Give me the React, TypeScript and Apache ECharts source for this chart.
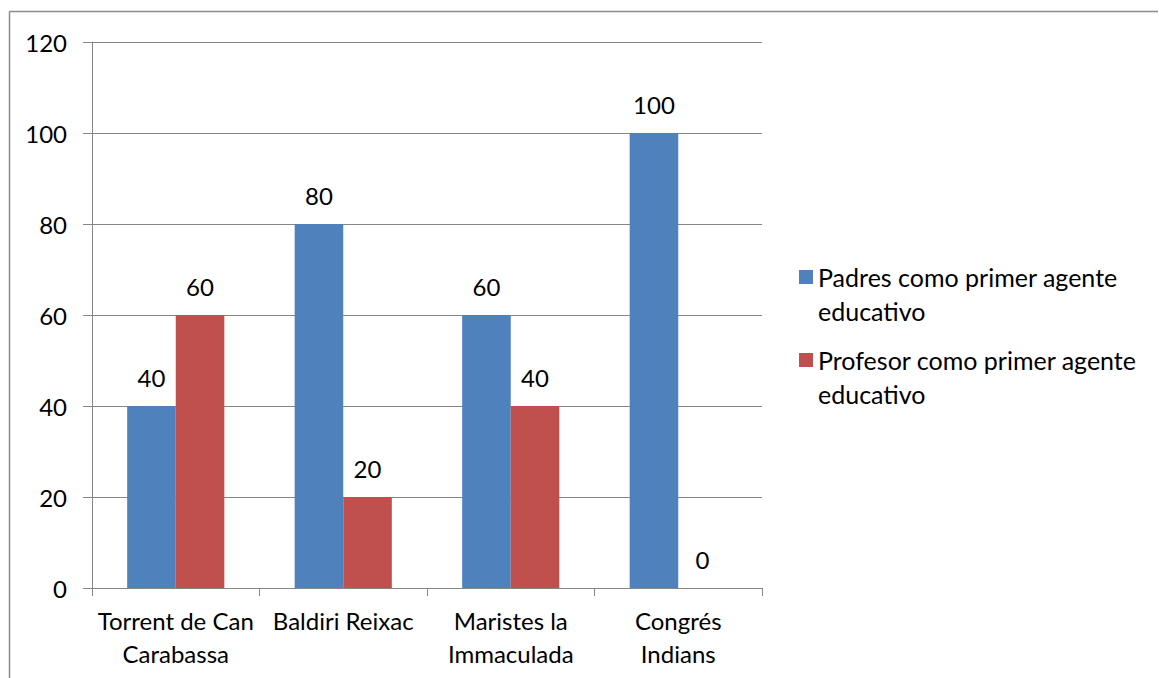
import React, { useEffect, useRef } from "react";
import * as echarts from "echarts";

const categories = ["Torrent de Can\nCarabassa", "Baldiri Reixac", "Maristes la\nImmaculada", "Congrés\nIndians"];
const padresValues = [40, 80, 60, 100];
const profesorValues = [60, 20, 40, 0];
const seriesNames = ["Padres como primer agente educativo", "Profesor como primer agente educativo"];
const legendLabels: Record<string, string> = {
  "Padres como primer agente educativo": "\nPadres como primer agente\neducativo",
  "Profesor como primer agente educativo": "\nProfesor como primer agente\neducativo",
};

const FONT = 'Lato, "Noto Sans", sans-serif';
const GRID = "#868686";
const FS = 24;

export default function App() {
  const ref = useRef<HTMLDivElement>(null);
  useEffect(() => {
    if (!ref.current) return;
    const chart = echarts.init(ref.current, undefined, { renderer: "svg" });
    chart.setOption({
      animation: false,
      backgroundColor: "#ffffff",
      textStyle: { fontFamily: FONT },
      grid: { left: 92, top: 42, right: 397, bottom: 90, containLabel: false },
      graphic: [
        { type: "line", shape: { x1: 9.5, y1: 11.5, x2: 9.5, y2: 678 }, style: { stroke: "#8c8c8c", lineWidth: 1.5 } },
        { type: "line", shape: { x1: 9.5, y1: 11.5, x2: 1158, y2: 11.5 }, style: { stroke: "#8c8c8c", lineWidth: 1.5 } },
      ],
      legend: {
        orient: "vertical",
        left: 794,
        top: 221,
        itemWidth: 14,
        itemHeight: 14,
        itemGap: -19,
        icon: "rect",
        data: seriesNames,
        formatter: (name: string) => legendLabels[name] || name,
        textStyle: { fontFamily: FONT, fontSize: 25, color: "#000", lineHeight: 34 },
      },
      xAxis: {
        type: "category",
        data: categories,
        axisLine: { lineStyle: { color: GRID, width: 1 } },
        axisTick: { show: true, length: 8, lineStyle: { color: GRID } },
        axisLabel: { color: "#000", fontFamily: FONT, fontSize: FS, lineHeight: 33, margin: 16, interval: 0 },
      },
      yAxis: {
        type: "value",
        min: 0,
        max: 120,
        interval: 20,
        axisLine: { show: true, lineStyle: { color: GRID, width: 1 } },
        axisTick: { show: true, length: 9, lineStyle: { color: GRID } },
        axisLabel: { color: "#000", fontFamily: FONT, fontSize: FS, margin: 25 },
        splitLine: { lineStyle: { color: GRID, width: 1 } },
      },
      series: [
        {
          name: seriesNames[0],
          type: "bar",
          data: padresValues,
          barGap: "0%",
          barCategoryGap: "42%",
          itemStyle: { color: "#4F81BD" },
          label: { show: true, position: "top", distance: 17, color: "#000", fontFamily: FONT, fontSize: FS },
        },
        {
          name: seriesNames[1],
          type: "bar",
          data: profesorValues,
          barGap: "0%",
          barCategoryGap: "42%",
          itemStyle: { color: "#C0504D" },
          label: { show: true, position: "top", distance: 17, color: "#000", fontFamily: FONT, fontSize: FS },
        },
      ],
    });
    return () => chart.dispose();
  }, []);
  return <div ref={ref} style={{ position: "fixed", left: 0, top: 0, width: 1159, height: 678 }} />;
}
